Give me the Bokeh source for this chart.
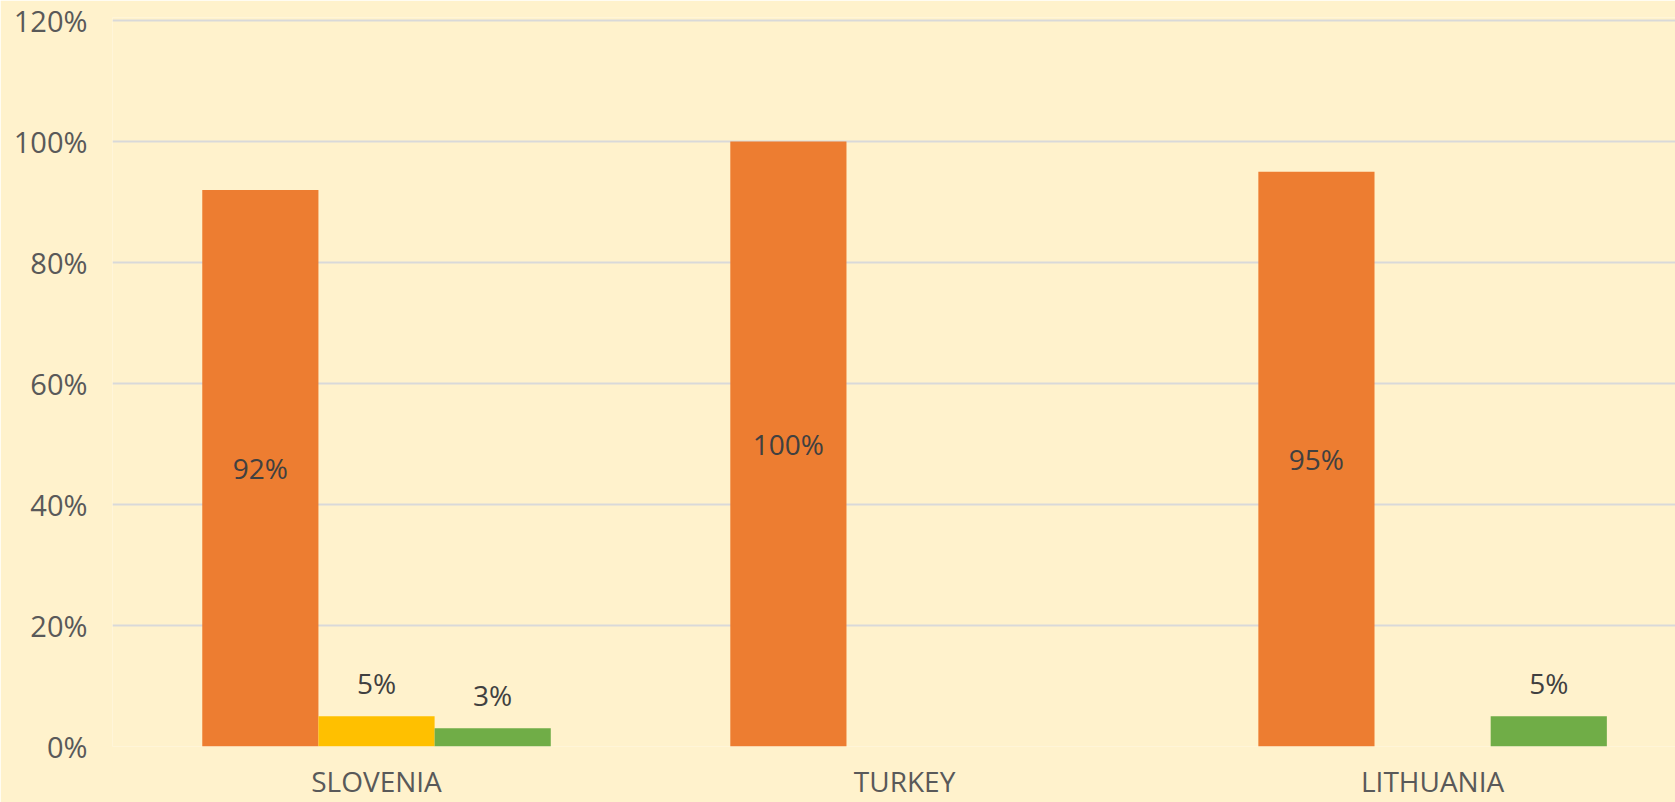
from bokeh.plotting import figure
from bokeh.models import ColumnDataSource, Range1d, FixedTicker, PrintfTickFormatter
from bokeh.core.properties import value
from bokeh.embed import file_html
from bokeh.resources import INLINE

categories = ["SLOVENIA", "TURKEY", "LITHUANIA"]
series_a = [92, 100, 95]
series_b = [5, 0, 0]
series_c = [3, 0, 5]
colors = ["#ED7D31", "#FFC000", "#70AD47"]
y_ticks = [0, 20, 40, 60, 80, 100, 120]

BG = "#FFF2CC"
FONT = "Open Sans"
W = 0.22

p = figure(frame_width=1563, frame_height=729, output_backend="svg", toolbar_location=None,
           x_range=Range1d(0, 2.96), y_range=Range1d(0, 120.5),
           min_border_left=112, min_border_right=0, min_border_top=17, min_border_bottom=10)
p.background_fill_color = BG
p.border_fill_color = BG
p.outline_line_color = None

centers = [i + 0.5 for i in range(len(categories))]
all_series = [series_a, series_b, series_c]
for k, vals in enumerate(all_series):
    xs = [c + (k - 1) * W for c in centers]
    src = ColumnDataSource(dict(x=xs, top=vals))
    p.vbar(x="x", top="top", width=W, bottom=0, source=src,
           fill_color=colors[k], line_color=None)
    lx, ly, lt = [], [], []
    for x, v in zip(xs, vals):
        if v > 0:
            lx.append(x)
            ly.append(v / 2 if k == 0 else v)
            lt.append(f"{v}%")
    lsrc = ColumnDataSource(dict(x=lx, y=ly, t=lt))
    p.text(x="x", y="y", text="t", source=lsrc, text_align="center",
           text_baseline="middle", y_offset=0 if k == 0 else -33,
           text_font=value(FONT), text_font_size="28px", text_color="#404040")

p.yaxis.ticker = FixedTicker(ticks=y_ticks)
p.yaxis.formatter = PrintfTickFormatter(format="%d%%")
p.yaxis.axis_line_color = None
p.yaxis.major_tick_line_color = None
p.yaxis.minor_tick_line_color = None
p.yaxis.major_tick_out = 0
p.yaxis.major_tick_in = 0
p.yaxis.major_label_text_font = FONT
p.yaxis.major_label_text_font_size = "29px"
p.yaxis.major_label_text_color = "#595959"
p.yaxis.major_label_standoff = 25

p.xaxis.ticker = FixedTicker(ticks=centers)
p.xaxis.major_label_overrides = {c: n for c, n in zip(centers, categories)}
p.xaxis.axis_line_color = None
p.xaxis.major_tick_line_color = None
p.xaxis.minor_tick_line_color = None
p.xaxis.major_tick_out = 0
p.xaxis.major_tick_in = 0
p.xaxis.major_label_text_font = FONT
p.xaxis.major_label_text_font_size = "28px"
p.xaxis.major_label_text_color = "#595959"
p.xaxis.major_label_standoff = 15

p.xgrid.grid_line_color = None
p.ygrid.ticker = FixedTicker(ticks=y_ticks)
p.ygrid.grid_line_color = "#D9D9D9"
p.ygrid.grid_line_width = 2
p.ygrid.level = "underlay"

open("out.html", "w").write(file_html(p, INLINE))
